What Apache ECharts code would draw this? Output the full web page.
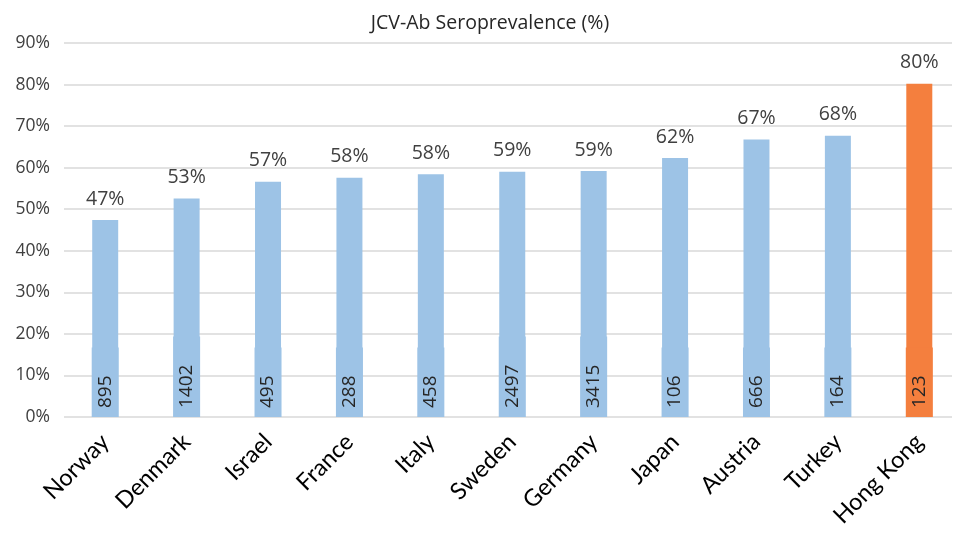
<!DOCTYPE html>
<html>
<head>
<meta charset="utf-8">
<script src="https://cdn.jsdelivr.net/npm/echarts@6/dist/echarts.min.js"></script>
<style>html,body{margin:0;padding:0;background:#fff;}#chart{width:960px;height:534px;}</style>
</head>
<body>
<div id="chart"></div>
<script>
const countries = ['Norway','Denmark','Israel','France','Italy','Sweden','Germany','Japan','Austria','Turkey','Hong Kong'];
const seroprevalence = [47.4, 52.6, 56.6, 57.6, 58.4, 59.0, 59.2, 62.3, 66.8, 67.7, 80.2];
const sampleSizes = [895, 1402, 495, 288, 458, 2497, 3415, 106, 666, 164, 123];
const yTicks = [0, 10, 20, 30, 40, 50, 60, 70, 80, 90];
const highlighted = ['Hong Kong'];

const BLUE = '#9DC3E6', ORANGE = '#F47F3E';
const colorOf = i => highlighted.includes(countries[i]) ? ORANGE : BLUE;
const numFont = '"Open Sans", "DejaVu Sans", sans-serif';

const chart = echarts.init(document.getElementById('chart'));
chart.setOption({
  animation: false,
  backgroundColor: '#fff',
  title: {
    text: 'JCV-Ab Seroprevalence (%)',
    left: 485, top: 8, textAlign: 'center',
    textStyle: { fontFamily: numFont, fontSize: 19.5, fontWeight: 'normal', color: '#262626' }
  },
  grid: [
    { left: 64.5, width: 906, top: 43, bottom: 117 },
    { left: 64, right: 8, top: 43, bottom: 117 }
  ],
  xAxis: [
    {
      type: 'category', gridIndex: 0, data: countries,
      axisLine: { show: false }, axisTick: { show: false },
      axisLabel: { rotate: 45, margin: 21, fontSize: 23.5, color: '#000', fontFamily: 'Lato, "Open Sans", sans-serif', interval: 0 }
    },
    { type: 'category', gridIndex: 1, data: countries, show: false }
  ],
  yAxis: [
    { type: 'value', gridIndex: 0, min: 0, max: yTicks[yTicks.length - 1], interval: 10, show: false, splitLine: { show: false } },
    {
      type: 'value', gridIndex: 1, min: yTicks[0], max: yTicks[yTicks.length - 1], interval: 10,
      axisLine: { show: false }, axisTick: { show: false },
      axisLabel: { formatter: v => v + '%', fontSize: 17.5, color: '#404040', margin: 14, fontFamily: numFont },
      splitLine: { lineStyle: { color: '#D9D9D9', width: 1.5 } }
    }
  ],
  series: [
    {
      type: 'bar', xAxisIndex: 0, yAxisIndex: 0, barWidth: 26,
      data: seroprevalence.map((v, i) => ({ value: v, itemStyle: { color: colorOf(i) } })),
      label: {
        show: true, position: 'top', distance: 11,
        formatter: p => Math.round(p.value) + '%',
        fontSize: 19.5, color: '#404040', fontFamily: numFont
      },
      z: 2
    },
    {
      type: 'bar', xAxisIndex: 0, yAxisIndex: 0, barWidth: 26, barGap: '-100%',
      data: seroprevalence.map((v, i) => ({
        value: v,
        label: { backgroundColor: colorOf(i) }
      })),
      itemStyle: { color: 'rgba(0,0,0,0)' },
      label: {
        show: true, position: 'insideBottom', rotate: 90, align: 'left', verticalAlign: 'middle',
        distance: 0,
        formatter: p => String(sampleSizes[p.dataIndex]),
        fontSize: 19, color: '#262626', fontFamily: numFont,
        padding: [4, 28, 4, 9]
      },
      z: 3
    }
  ]
});
</script>
</body>
</html>
